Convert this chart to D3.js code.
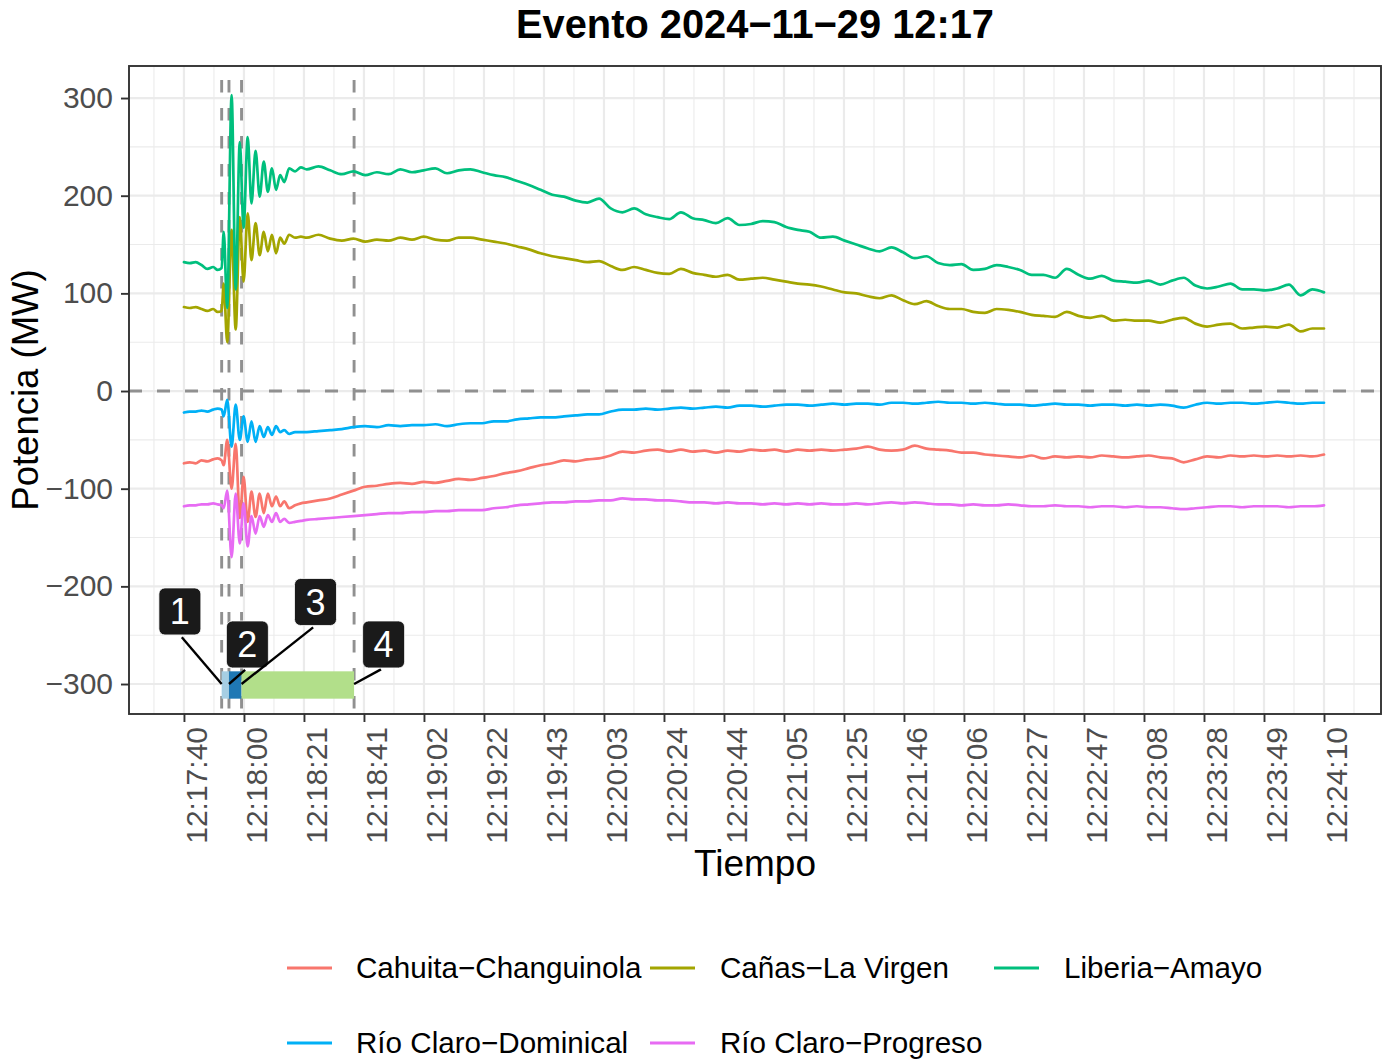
<!DOCTYPE html>
<html><head><meta charset="utf-8">
<script src="https://cdn.jsdelivr.net/npm/d3@7"></script>
<style>
body{margin:0;background:#fff}
svg{display:block}
text{font-family:"Liberation Sans",Arial,Helvetica,sans-serif}
</style>
</head><body>
<svg id="c" width="1386" height="1062"></svg>
<script>
// ---------- data ----------
const chartTitle = "Evento 2024\u221211\u221229 12:17";
const seriesNames = ["Cahuita\u2212Changuinola","Ca\u00f1as\u2212La Virgen","Liberia\u2212Amayo","R\u00edo Claro\u2212Dominical","R\u00edo Claro\u2212Progreso"];
const seriesColors = ["#F8766D","#A3A500","#00BF7D","#00B0F6","#E76BF3"];

// seconds after 12:17:40
const timeSec = [0,2,4,6,8,10,11.5,12.9,13.6,14.8,16.3,17.7,19.1,20.4,21.8,23.1,24.5,25.9,27.3,28.7,30.1,31.5,32.9,34.3,36,38,40,
 42,46,50,54,58,62,66,70,74,78,82,86,90,94,98,102,106,110,114,118,122,126,130,134,138,142,146,150,154,158,
 162,166,170,174,178,182,186,190,194,198,202,206,210,214,218,222,226,230,234,238,242,246,250,254,258,262,
 266,270,274,278,282,286,290,294,298,302,306,310,314,318,322,326,330,334,338,342,346,350,354,358,362,366,
 370,374,378,382,386,390];

const cahuitaChanguinola = [-74,-73,-74,-71,-72,-70,-69,-71,-76,-50,-100,-54,-130,-88,-134,-103,-129,-105,-125,-105,-118,-108,-118,-113,-120,-117,-115,
 -114,-112,-110,-106,-102,-98,-97,-95,-94,-95,
 -93,-94,-92,-90,-91,-89,-87,-84,-82,-79,
 -76,-74,-71,-72,-70,-69,-66,-62,-63,-61,
 -60,-62,-60,-62,-61,-63,-61,-62,-60,-61,
 -60,-62,-60,-61,-60,-61,-60,-59,-57,-60,
 -61,-60,-56,-59,-60,-61,-63,-63,-65,-66,
 -67,-68,-66,-69,-67,-68,-67,-68,-66,-67,
 -68,-67,-66,-68,-69,-73,-70,-67,-68,-66,
 -67,-66,-67,-66,-67,-66,-67,-65];

const canasLaVirgen = [86,85,86,84,82,84,81,82,110,50,165,63,178,112,182,134,172,139,163,143,160,141,157,151,160,157,158,
 157,160,156,154,156,153,155,154,157,155,
 158,155,154,157,157,155,153,151,148,145,
 141,138,136,134,132,133,128,124,127,124,
 121,120,125,121,119,117,119,114,115,116,
 114,112,110,109,107,104,101,100,97,95,
 98,93,89,92,87,84,84,81,80,84,
 83,81,78,77,76,81,77,75,77,72,
 73,72,72,70,73,75,69,66,68,69,
 64,65,66,65,68,61,64,64];

const liberiaAmayo = [132,131,132,129,125,127,124,126,163,85,303,104,255,167,260,192,246,199,235,204,228,206,221,214,228,225,229,
 227,230,226,222,225,221,224,222,227,224,
 226,228,223,226,227,224,221,219,215,211,
 206,201,199,195,193,197,187,183,187,181,
 178,176,183,177,175,172,177,170,171,174,
 173,168,165,163,157,158,154,150,146,143,
 147,142,136,138,131,129,130,124,125,129,
 127,124,119,119,116,125,119,115,118,113,
 112,111,113,109,113,116,108,105,107,110,
 104,104,103,105,109,98,104,101];

const rioClaroDominical = [-22,-21,-21,-20,-21,-19,-18,-19,-26,-9,-57,-14,-50,-26,-52,-31,-52,-36,-47,-37,-45,-36,-42,-40,-44,-42,-42,
 -42,-41,-40,-39,-37,-36,-37,-35,-36,-35,
 -35,-34,-36,-34,-33,-33,-31,-31,-29,-28,
 -27,-27,-26,-25,-24,-24,-21,-19,-19,-18,
 -19,-18,-17,-18,-17,-16,-17,-15,-15,-16,
 -15,-14,-14,-15,-14,-13,-14,-13,-13,-14,
 -12,-12,-13,-12,-11,-12,-12,-13,-12,-13,
 -14,-14,-15,-14,-13,-14,-14,-15,-14,-14,
 -15,-14,-15,-14,-15,-17,-14,-12,-13,-12,
 -12,-13,-12,-11,-12,-13,-12,-12];

const rioClaroProgreso = [-118,-117,-117,-116,-116,-115,-116,-117,-120,-102,-170,-105,-156,-115,-159,-128,-146,-128,-139,-127,-134,-125,-134,-131,-135,-134,-133,
 -132,-131,-130,-129,-128,-127,-126,-125,-125,-124,
 -124,-123,-123,-122,-122,-122,-120,-119,-117,-116,
 -115,-114,-114,-113,-113,-112,-112,-110,-111,-111,
 -112,-112,-113,-114,-114,-115,-114,-115,-115,-116,
 -115,-116,-115,-116,-115,-116,-116,-115,-116,-115,
 -114,-115,-114,-115,-116,-116,-117,-116,-117,-117,
 -116,-117,-118,-118,-117,-118,-118,-119,-118,-118,
 -119,-118,-119,-119,-120,-121,-120,-119,-118,-118,
 -119,-118,-118,-118,-119,-118,-118,-117];

const seriesValues = [cahuitaChanguinola, canasLaVirgen, liberiaAmayo, rioClaroDominical, rioClaroProgreso];

const yTicks = [-300,-200,-100,0,100,200,300];
const xTickLabels = ["12:17:40","12:18:00","12:18:21","12:18:41","12:19:02","12:19:22","12:19:43","12:20:03","12:20:24","12:20:44",
 "12:21:05","12:21:25","12:21:46","12:22:06","12:22:27","12:22:47","12:23:08","12:23:28","12:23:49","12:24:10"];
const xSpanSec = 390;

const eventSec = [12.9, 15.4, 19.7, 58.2];
const phaseColors = ["#A6CEE3","#1F78B4","#B2DF8A"];
const phaseBand = [-315, -287];
const markerLevel = -300;
const labelText = ["1","2","3","4"];
const labelSec = [-1.4, 21.7, 45.0, 68.3];
const labelVal = [-225.7, -259.5, -216, -259.5];

// ---------- layout ----------
const svg = d3.select("#c");
const P = {l:129, r:1381, t:66, b:714};
const x = d3.scaleLinear().domain([-18.8, 409.5]).range([P.l, P.r]);
const y = d3.scaleLinear().domain([-330.7, 332.8]).range([P.b, P.t]);
const xTickVals = xTickLabels.map((d,i) => i * xSpanSec / (xTickLabels.length - 1));
const step = xTickVals[1] - xTickVals[0];
const minorX = [xTickVals[0] - step/2].concat(xTickVals.map(v => v + step/2));
const minorY = [-250,-150,-50,50,150,250];
const fmt = v => (v < 0 ? "\u2212" + Math.abs(v) : String(v));

svg.append("rect").attr("width",1386).attr("height",1062).attr("fill","#fff");
svg.append("defs").append("clipPath").attr("id","clip")
  .append("rect").attr("x",P.l).attr("y",P.t).attr("width",P.r-P.l).attr("height",P.b-P.t);

const grid = svg.append("g");
grid.selectAll(".mx").data(minorX.filter(v => x(v) > P.l && x(v) < P.r)).join("line")
  .attr("x1",d=>x(d)).attr("x2",d=>x(d)).attr("y1",P.t).attr("y2",P.b)
  .attr("stroke","#EBEBEB").attr("stroke-width",1.1);
grid.selectAll(".my").data(minorY).join("line")
  .attr("y1",d=>y(d)).attr("y2",d=>y(d)).attr("x1",P.l).attr("x2",P.r)
  .attr("stroke","#EBEBEB").attr("stroke-width",1.1);
grid.selectAll(".Mx").data(xTickVals).join("line")
  .attr("x1",d=>x(d)).attr("x2",d=>x(d)).attr("y1",P.t).attr("y2",P.b)
  .attr("stroke","#EBEBEB").attr("stroke-width",2.2);
grid.selectAll(".My").data(yTicks).join("line")
  .attr("y1",d=>y(d)).attr("y2",d=>y(d)).attr("x1",P.l).attr("x2",P.r)
  .attr("stroke","#EBEBEB").attr("stroke-width",2.2);

const plot = svg.append("g").attr("clip-path","url(#clip)");

// reference dashed lines
plot.append("line").attr("x1",P.l).attr("x2",P.r).attr("y1",y(0)).attr("y2",y(0))
  .attr("stroke","#909090").attr("stroke-width",2.9).attr("stroke-dasharray","13,15");
plot.selectAll(".vl").data(eventSec).join("line")
  .attr("x1",d=>x(d)).attr("x2",d=>x(d)).attr("y1",P.t).attr("y2",P.b)
  .attr("stroke","#909090").attr("stroke-width",2.9)
  .attr("stroke-dasharray","12.5,15.5").attr("stroke-dashoffset",14);

// series
const line = d3.line().x((d,i)=>x(timeSec[i])).y(d=>y(d)).curve(d3.curveMonotoneX);
seriesValues.forEach((vals,k) => {
  plot.append("path").attr("d", line(vals)).attr("fill","none")
    .attr("stroke", seriesColors[k]).attr("stroke-width",2.7)
    .attr("stroke-linejoin","round").attr("stroke-linecap","round");
});

// phase rectangles
phaseColors.forEach((c,i) => {
  plot.append("rect").attr("x", x(eventSec[i])).attr("width", x(eventSec[i+1]) - x(eventSec[i]))
    .attr("y", y(phaseBand[1])).attr("height", y(phaseBand[0]) - y(phaseBand[1]))
    .attr("fill", c);
});

// labels with leader segments
const bw = 42, bh = 47;
labelText.forEach((t,i) => {
  const cx = x(labelSec[i]), cy = y(labelVal[i]);
  const px = x(eventSec[i]), py = y(markerLevel);
  let sx = cx, sy = cy + bh/2;
  const dx = px - sx, dy = py - sy, len = Math.hypot(dx,dy);
  sx += dx/len*3; sy += dy/len*3;
  svg.append("line").attr("x1",sx).attr("y1",sy).attr("x2",px).attr("y2",py)
    .attr("stroke","#000").attr("stroke-width",2.4);
  svg.append("rect").attr("x",cx-bw/2).attr("y",cy-bh/2).attr("width",bw).attr("height",bh)
    .attr("rx",6).attr("fill","#1A1A1A").attr("stroke","#fff").attr("stroke-width",0.8);
  svg.append("text").attr("x",cx).attr("y",cy+13).attr("text-anchor","middle")
    .attr("font-size",36).attr("fill","#fff").text(t);
});

// panel border
svg.append("rect").attr("x",P.l).attr("y",P.t).attr("width",P.r-P.l).attr("height",P.b-P.t)
  .attr("fill","none").attr("stroke","#333333").attr("stroke-width",1.9);

// axes
const yAxis = svg.append("g").attr("transform",`translate(${P.l},0)`)
  .call(d3.axisLeft(y).tickValues(yTicks).tickSize(8).tickPadding(8).tickFormat(fmt));
yAxis.select(".domain").remove();
yAxis.selectAll("line").attr("stroke","#333333").attr("stroke-width",1.9);
yAxis.selectAll("text").attr("font-size",30).attr("fill","#4D4D4D")
  .attr("font-family","Liberation Sans, Arial, sans-serif");

const xAxis = svg.append("g").attr("transform",`translate(0,${P.b})`)
  .call(d3.axisBottom(x).tickValues(xTickVals).tickSize(8).tickFormat((d,i)=>xTickLabels[i]));
xAxis.select(".domain").remove();
xAxis.selectAll("line").attr("stroke","#333333").attr("stroke-width",1.9);
xAxis.selectAll("text").attr("font-size",30).attr("fill","#4D4D4D")
  .attr("font-family","Liberation Sans, Arial, sans-serif")
  .attr("x",null).attr("y",null).attr("dy",null)
  .attr("text-anchor","end").attr("transform","translate(22.5,13) rotate(-90)");

// titles
svg.append("text").attr("x",(P.l+P.r)/2).attr("y",38).attr("text-anchor","middle")
  .attr("font-size",39.8).attr("font-weight","bold").attr("fill","#000").text(chartTitle);
svg.append("text").attr("x",(P.l+P.r)/2).attr("y",876).attr("text-anchor","middle")
  .attr("font-size",37).attr("fill","#000").text("Tiempo");
svg.append("text").attr("transform",`translate(38,${(P.t+P.b)/2}) rotate(-90)`)
  .attr("text-anchor","middle").attr("font-size",36.5).attr("fill","#000").text("Potencia (MW)");

// legend
const keyX = [287, 650, 994], txtX = [356, 720, 1064], rowY = [968, 1043];
seriesNames.forEach((n,k) => {
  const c = k % 3, r = Math.floor(k / 3);
  svg.append("line").attr("x1",keyX[c]).attr("x2",keyX[c]+45).attr("y1",rowY[r]).attr("y2",rowY[r])
    .attr("stroke",seriesColors[k]).attr("stroke-width",3);
  svg.append("text").attr("x",txtX[c]).attr("y",rowY[r]).attr("dy","0.35em")
    .attr("font-size",29.6).attr("fill","#000").text(n);
});
</script>
</body></html>
